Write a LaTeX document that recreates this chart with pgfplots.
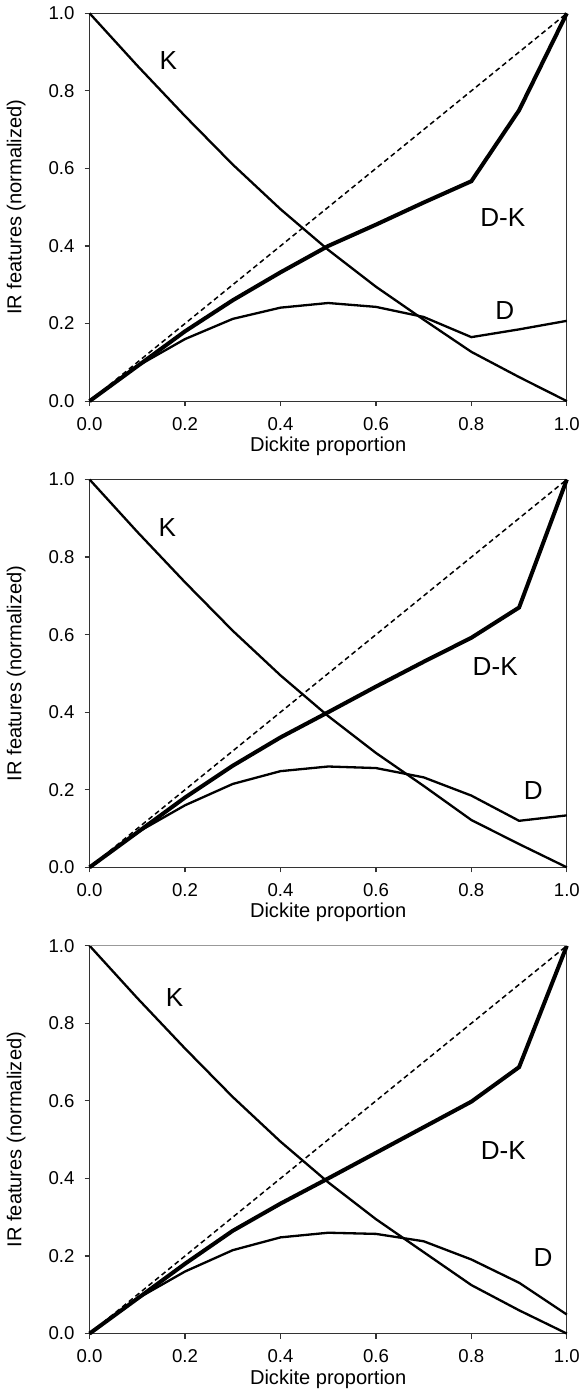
\documentclass[border=0pt]{standalone}
\usepackage{fontspec}
\setmainfont{Liberation Sans}
\usepackage{pgfplots}
\usepackage{pgfplotstable}
\pgfplotsset{compat=1.18}

% columns: dickite proportion, K, D-K, D
\pgfplotstableread{
x   K     DK    D
0.0 1.000 0.000 0.000
0.1 0.865 0.090 0.090
0.2 0.735 0.180 0.160
0.3 0.610 0.260 0.212
0.4 0.495 0.332 0.241
0.5 0.390 0.400 0.253
0.6 0.295 0.455 0.243
0.7 0.210 0.512 0.217
0.8 0.127 0.567 0.165
0.9 0.062 0.750 0.185
1.0 0.000 1.000 0.207
}\panelA

\pgfplotstableread{
x   K     DK    D
0.0 1.000 0.000 0.000
0.1 0.865 0.090 0.090
0.2 0.735 0.180 0.160
0.3 0.610 0.262 0.215
0.4 0.495 0.335 0.248
0.5 0.390 0.400 0.260
0.6 0.295 0.466 0.256
0.7 0.210 0.530 0.232
0.8 0.122 0.592 0.185
0.9 0.060 0.670 0.120
1.0 0.000 1.000 0.134
}\panelB

\pgfplotstableread{
x   K     DK    D
0.0 1.000 0.000 0.000
0.1 0.865 0.090 0.090
0.2 0.735 0.180 0.160
0.3 0.610 0.265 0.215
0.4 0.495 0.335 0.248
0.5 0.390 0.400 0.260
0.6 0.295 0.466 0.257
0.7 0.210 0.532 0.238
0.8 0.125 0.598 0.191
0.9 0.060 0.687 0.131
1.0 0.000 1.000 0.049
}\panelC

\tikzset{lab/.style={font=\fontsize{13}{15}\selectfont, anchor=center}}

\pgfplotsset{
  irpanel/.style={
    scale only axis,
    width=237.5pt, height=193pt,
    xmin=0, xmax=1, ymin=0, ymax=1,
    xtick={0,0.2,0.4,0.6,0.8,1},
    xticklabels={0.0,0.2,0.4,0.6,0.8,1.0},
    ytick={0,0.2,0.4,0.6,0.8,1},
    yticklabels={0.0,0.2,0.4,0.6,0.8,1.0},
    tick align=outside, tick pos=left,
    major tick length=2.5pt,
    tick style={black!80, line width=0.6pt},
    axis line style={black!80, line width=0.6pt},
    ticklabel style={font=\fontsize{9.25}{11}\selectfont},
    xticklabel style={yshift=-2pt},
    yticklabel style={xshift=-1.5pt},
    xlabel={Dickite proportion},
    ylabel={IR features (normalized)},
    label style={font=\fontsize{11.8}{14}\selectfont},
    every axis x label/.style={at={(axis description cs:0.5,-0.117)}, anchor=center},
    every axis y label/.style={at={(axis description cs:-0.154,0.5)}, rotate=90, anchor=center},
    clip=false,
  },
  kline/.style={black, line width=1.15pt, mark=none},
  dkline/.style={black, line width=2pt, mark=none},
  dline/.style={black, line width=1.15pt, mark=none},
  ref/.style={black, line width=0.75pt, dash pattern=on 2.5pt off 1.7pt, mark=none},
}

\begin{document}
\begin{tikzpicture}

\begin{axis}[irpanel, at={(0,0)}]
\addplot[ref] coordinates {(0,0) (1,1)};
\addplot[kline] table[x=x, y=K] {\panelA};
\addplot[dkline] table[x=x, y=DK] {\panelA};
\addplot[dline] table[x=x, y=D] {\panelA};
\node[lab] at (axis cs:0.165,0.877) {K};
\node[lab] at (axis cs:0.866,0.474) {D-K};
\node[lab] at (axis cs:0.870,0.233) {D};
\end{axis}

\begin{axis}[irpanel, at={(0,-232pt)}]
\addplot[ref] coordinates {(0,0) (1,1)};
\addplot[kline] table[x=x, y=K] {\panelB};
\addplot[dkline] table[x=x, y=DK] {\panelB};
\addplot[dline] table[x=x, y=D] {\panelB};
\node[lab] at (axis cs:0.163,0.875) {K};
\node[lab] at (axis cs:0.850,0.519) {D-K};
\node[lab] at (axis cs:0.930,0.197) {D};
\end{axis}

\begin{axis}[irpanel, at={(0,-464pt)}]
\addplot[ref] coordinates {(0,0) (1,1)};
\addplot[kline] table[x=x, y=K] {\panelC};
\addplot[dkline] table[x=x, y=DK] {\panelC};
\addplot[dline] table[x=x, y=D] {\panelC};
\draw[black!40, line width=0.6pt] (axis cs:0,1) -- (axis cs:1,1);
\node[lab] at (axis cs:0.178,0.866) {K};
\node[lab] at (axis cs:0.867,0.473) {D-K};
\node[lab] at (axis cs:0.950,0.197) {D};
\end{axis}

\end{tikzpicture}
\end{document}
